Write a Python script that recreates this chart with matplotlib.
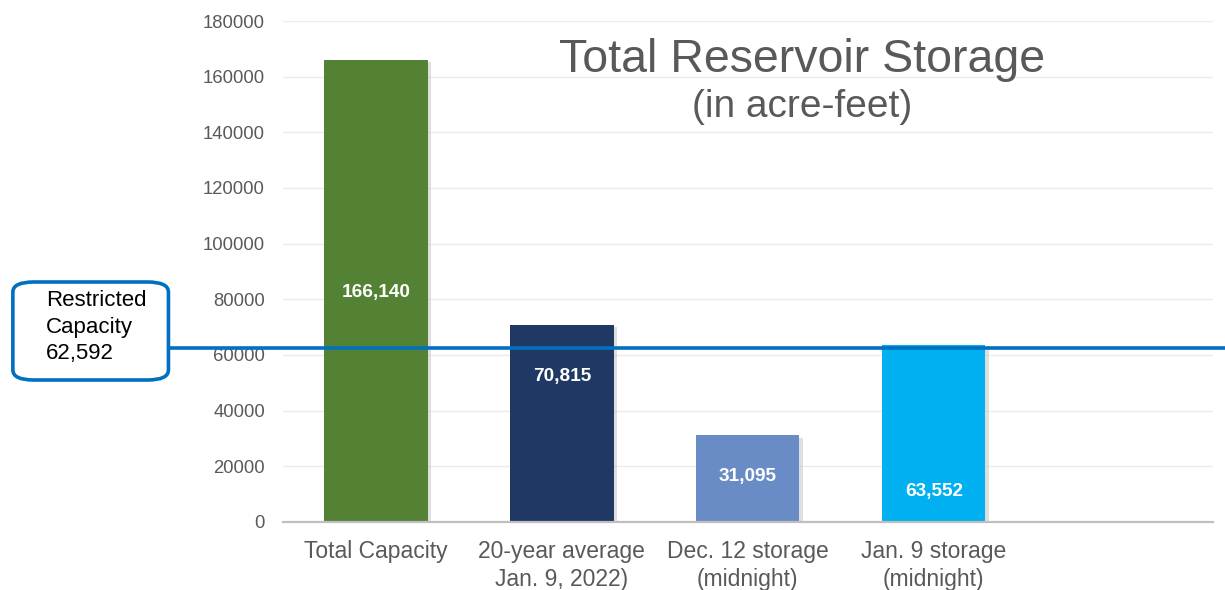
import matplotlib
matplotlib.use("Agg")
from matplotlib import pyplot as plt
from matplotlib import patheffects
from matplotlib.patches import FancyBboxPatch

# chart data
categories = ["Total Capacity", "20-year average\nJan. 9, 2022)", "Dec. 12 storage\n(midnight)",
              "Jan. 9 storage\n(midnight)", ""]
values = [166140, 70815, 31095, 63552]
value_labels = ["166,140", "70,815", "31,095", "63,552"]
restricted = 62592
y_ticks = [0, 20000, 40000, 60000, 80000, 100000, 120000, 140000, 160000, 180000]

bar_colors = ["#548235", "#203864", "#6a8cc6", "#00b0f0"]
label_pos = [82300, 52100, 16200, 10800]
grey = "#595959"

plt.rcParams['font.family'] = ['Liberation Sans', 'DejaVu Sans']

fig = plt.figure(figsize=(12.25, 5.9), dpi=100)
ax = fig.add_axes([0.231, 0.1153, 0.759, 0.8491])

x = list(range(len(categories)))
shadow = [patheffects.SimplePatchShadow(offset=(2.5, -1.5), shadow_rgbFace="#b0b0b0", alpha=0.4),
          patheffects.Normal()]
bars = ax.bar(x[:len(values)], values, width=0.555, color=bar_colors, zorder=3)
for b in bars:
    b.set_path_effects(shadow)

for i, (lab, yp) in enumerate(zip(value_labels, label_pos)):
    ax.text(i, yp, lab, ha="center", va="center", color="white", fontsize=13.7,
            fontweight="bold", zorder=5)

ax.set_xlim(-0.5, len(categories) - 0.5)
ax.set_ylim(0, 180000)
ax.set_yticks(y_ticks)
ax.set_yticklabels([str(t) for t in y_ticks], color=grey, fontsize=13.3)
ax.set_xticks(x)
ax.set_xticklabels(categories, color=grey, fontsize=16.5, linespacing=1.28)
ax.tick_params(axis="both", length=0)
ax.tick_params(axis="y", pad=13)
ax.tick_params(axis="x", pad=13)
ax.grid(axis="y", color="#ebebeb", linewidth=1, zorder=0)
ax.set_axisbelow(True)
for s in ["top", "right", "left"]:
    ax.spines[s].set_visible(False)
ax.spines["bottom"].set_color("#bfbfbf")
ax.spines["bottom"].set_linewidth(1.6)
ax.spines["bottom"].set_zorder(4)

# restricted capacity line, runs past the plot area to the callout box
ax.axhline(restricted, xmin=-0.122, xmax=1.02, color="#0070c0", linewidth=2.6,
           clip_on=False, zorder=6)

box = FancyBboxPatch((0.0105, 1 - 380 / 590), 0.127, 98 / 590,
                     boxstyle="round,pad=0,rounding_size=0.017",
                     transform=fig.transFigure, facecolor="white",
                     edgecolor="#0070c0", linewidth=2.6, zorder=7)
fig.patches.append(box)
fig.text(46 / 1225, 1 - 327 / 590, "Restricted\nCapacity\n{:,}".format(restricted),
         ha="left", va="center", fontsize=16, color="black", linespacing=1.35, zorder=8)

fig.text(802 / 1225, 1 - 60 / 590, "Total Reservoir Storage", ha="center", va="center",
         fontsize=33.5, color=grey)
fig.text(802 / 1225, 1 - 107 / 590, "(in acre-feet)", ha="center", va="center",
         fontsize=28, color=grey)

fig.savefig("out.png", dpi=100)
